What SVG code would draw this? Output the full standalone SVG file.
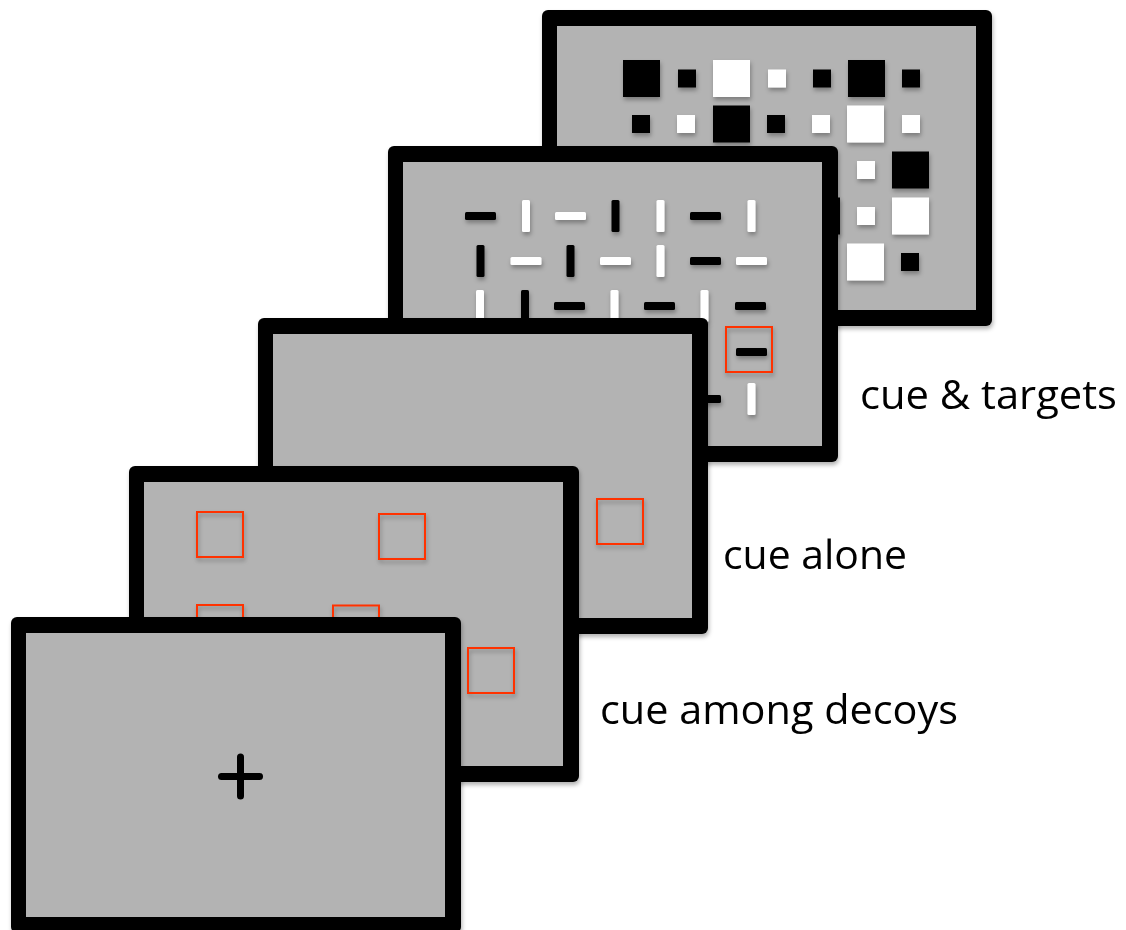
<svg xmlns="http://www.w3.org/2000/svg" xmlns:xlink="http://www.w3.org/1999/xlink" width="1126" height="930" viewBox="0 0 1126 930">
  <style>
    .bk { fill: #000000; }
    .wh { fill: #ffffff; }
    .cue { fill: none; stroke: #ff3300; stroke-width: 2; }
    .lbl { font-family: "Open Sans", "Liberation Sans", sans-serif; font-size: 40px; fill: #000000; }
    .cross { stroke: #000000; stroke-width: 7; stroke-linecap: round; }
  </style>
  <defs>
    <filter id="sh" x="-10%" y="-10%" width="130%" height="130%">
      <feDropShadow dx="1" dy="3" stdDeviation="2" flood-color="#000000" flood-opacity="0.3"/>
    </filter>
    <g id="frame">
      <rect x="0" y="0" width="450" height="316" rx="6" fill="#000000"/>
      <rect x="15" y="16" width="419" height="284" fill="#b3b3b3"/>
    </g>
    <rect id="sb" x="-18.5" y="-18.5" width="37" height="37"/>
    <rect id="ss" x="-9" y="-9" width="18" height="18"/>
    <rect id="hb" x="-15.5" y="-4" width="31" height="8" rx="1.5"/>
    <rect id="vb" x="-4" y="-16" width="8" height="32" rx="1.5"/>
  </defs>
  <rect width="1126" height="930" fill="#ffffff"/>

  <g id="panel-targets-squares">
    <use xlink:href="#frame" href="#frame" x="542" y="10" filter="url(#sh)"/>
    <g filter="url(#sh)">
      <use href="#sb" x="641.5" y="78.5" class="bk"/>
      <use href="#ss" x="687" y="78.5" class="bk"/>
      <use href="#sb" x="731.5" y="78.5" class="wh"/>
      <use href="#ss" x="777" y="78.5" class="wh"/>
      <use href="#ss" x="822" y="78.5" class="bk"/>
      <use href="#sb" x="866.5" y="78.5" class="bk"/>
      <use href="#ss" x="911" y="78.5" class="bk"/>

      <use href="#ss" x="641" y="124" class="bk"/>
      <use href="#ss" x="686" y="124" class="wh"/>
      <use href="#sb" x="731.5" y="124" class="bk"/>
      <use href="#ss" x="776" y="124" class="bk"/>
      <use href="#ss" x="821" y="124" class="wh"/>
      <use href="#sb" x="865.5" y="124" class="wh"/>
      <use href="#ss" x="911" y="124" class="wh"/>

      <use href="#ss" x="866" y="170" class="wh"/>
      <use href="#sb" x="910.5" y="170" class="bk"/>

      <use href="#sb" x="821.5" y="216" class="bk"/>
      <use href="#ss" x="866" y="216" class="wh"/>
      <use href="#sb" x="910.5" y="216" class="wh"/>

      <use href="#sb" x="865.5" y="262" class="wh"/>
      <use href="#ss" x="910" y="262" class="bk"/>
    </g>
  </g>

  <g id="panel-cue-targets">
    <use href="#frame" x="388" y="146" filter="url(#sh)"/>
    <g filter="url(#sh)">
      <use href="#hb" x="480.5" y="216" class="bk"/>
      <use href="#vb" x="526" y="216" class="wh"/>
      <use href="#hb" x="570.5" y="216" class="wh"/>
      <use href="#vb" x="615.5" y="216" class="bk"/>
      <use href="#vb" x="660.5" y="216" class="wh"/>
      <use href="#hb" x="705.5" y="216" class="bk"/>
      <use href="#vb" x="751.5" y="216" class="wh"/>

      <use href="#vb" x="480.5" y="261" class="bk"/>
      <use href="#hb" x="526" y="261" class="wh"/>
      <use href="#vb" x="570.5" y="261" class="bk"/>
      <use href="#hb" x="615.5" y="261" class="wh"/>
      <use href="#vb" x="660.5" y="261" class="wh"/>
      <use href="#hb" x="705.5" y="261" class="bk"/>
      <use href="#hb" x="751.5" y="261" class="wh"/>

      <use href="#vb" x="480" y="306" class="wh"/>
      <use href="#vb" x="525" y="306" class="bk"/>
      <use href="#hb" x="569.5" y="306" class="bk"/>
      <use href="#vb" x="614.5" y="306" class="wh"/>
      <use href="#hb" x="659.5" y="306" class="bk"/>
      <use href="#vb" x="704.5" y="306" class="wh"/>
      <use href="#hb" x="750.5" y="306" class="bk"/>

      <use href="#hb" x="751.5" y="352" class="bk"/>

      <use href="#hb" x="705.5" y="399" class="bk"/>
      <use href="#vb" x="751.5" y="399" class="wh"/>

      <rect class="cue" x="726" y="327" width="46" height="45"/>
    </g>
  </g>

  <g id="panel-cue-alone">
    <use href="#frame" x="258" y="318" filter="url(#sh)"/>
    <rect class="cue" x="597" y="499" width="46" height="45" filter="url(#sh)"/>
  </g>

  <g id="panel-cue-decoys">
    <use href="#frame" x="129" y="466" filter="url(#sh)"/>
    <g filter="url(#sh)">
      <rect class="cue" x="197" y="512" width="46" height="45"/>
      <rect class="cue" x="379" y="514" width="46" height="45"/>
      <rect class="cue" x="197" y="605" width="46" height="45"/>
      <rect class="cue" x="333" y="605.5" width="46" height="45"/>
      <rect class="cue" x="468" y="648" width="46" height="45"/>
    </g>
  </g>

  <g id="panel-fixation">
    <use href="#frame" x="11" y="617" filter="url(#sh)"/>
    <line class="cross" x1="240.5" y1="757" x2="240.5" y2="796"/>
    <line class="cross" x1="221.5" y1="776.5" x2="259.5" y2="776.5"/>
  </g>

  <g id="labels">
    <text class="lbl" x="860" y="409" textLength="257" lengthAdjust="spacingAndGlyphs">cue &amp; targets</text>
    <text class="lbl" x="723" y="569" textLength="184" lengthAdjust="spacingAndGlyphs">cue alone</text>
    <text class="lbl" x="600" y="724" textLength="358" lengthAdjust="spacingAndGlyphs">cue among decoys</text>
  </g>
</svg>
